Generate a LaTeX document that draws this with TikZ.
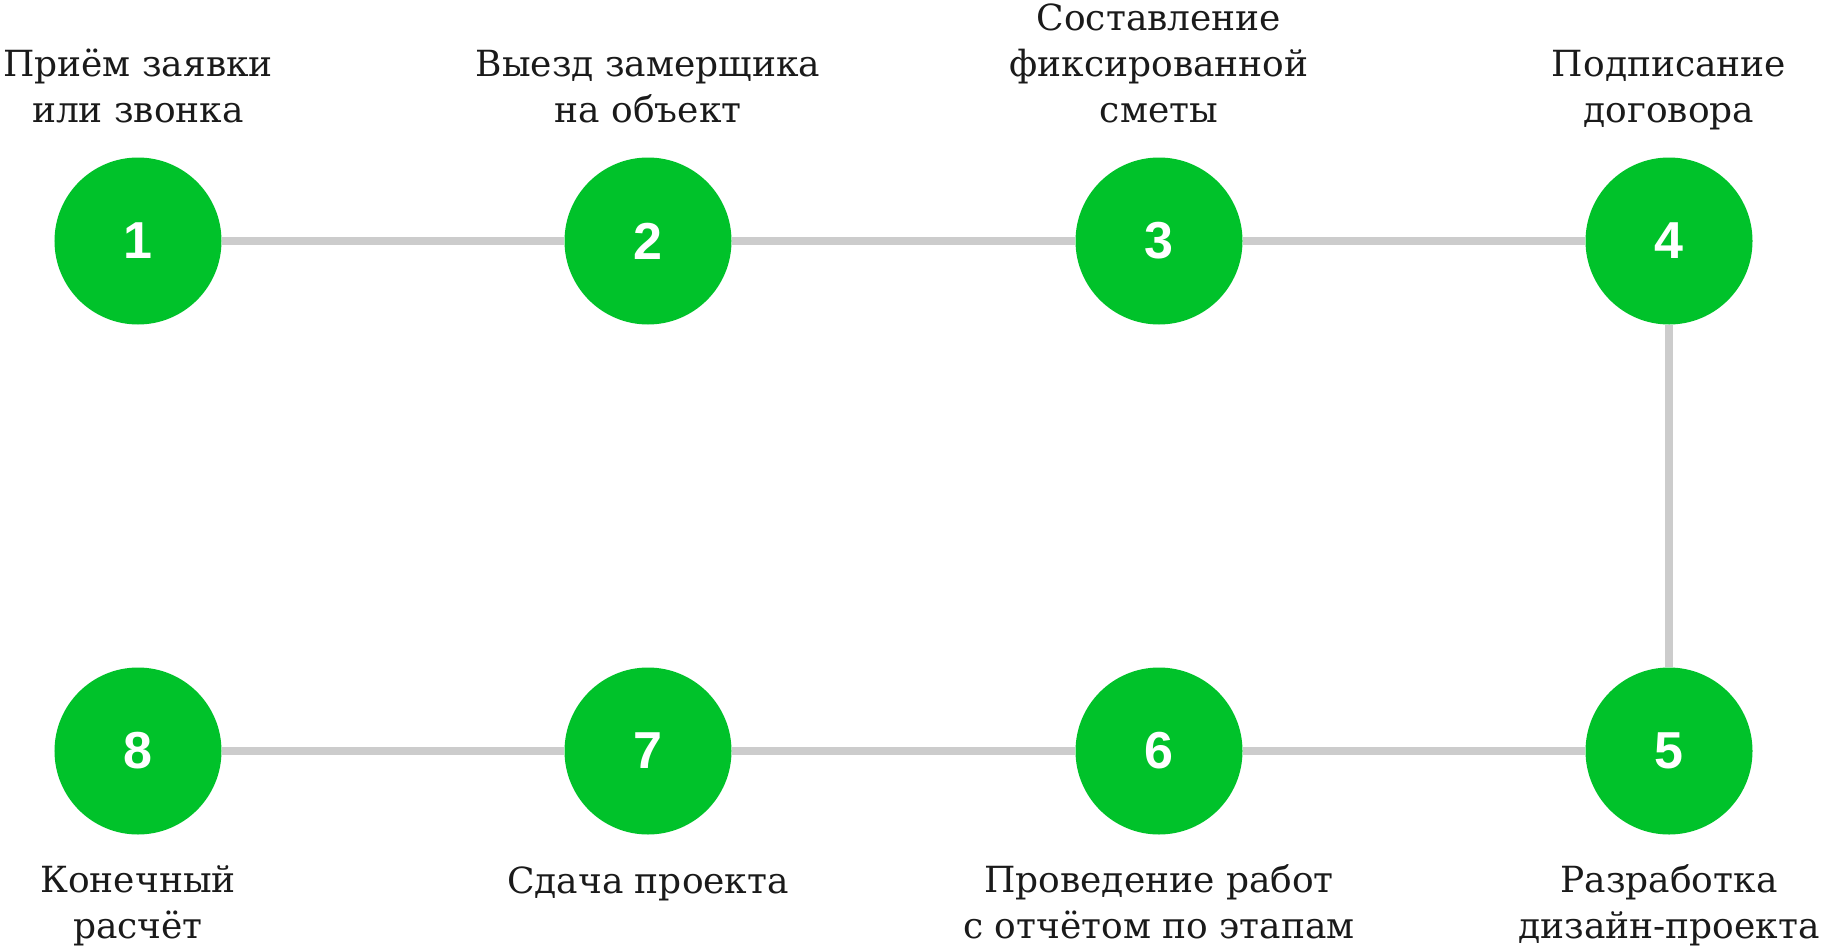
\documentclass[tikz,border=0pt]{standalone}
\usepackage{fontspec}
\setmainfont{DejaVu Serif}
\newfontfamily\numfont{Liberation Sans}
\definecolor{stepgreen}{RGB}{0,194,42}
\definecolor{linegray}{RGB}{204,204,204}
\definecolor{txt}{RGB}{26,26,26}
\begin{document}
\begin{tikzpicture}[x=1bp,y=-1bp,
  stepcircle/.style={circle,fill=stepgreen,minimum size=167bp,inner sep=0pt,
    text=white,font=\numfont\bfseries\fontsize{52bp}{52bp}\selectfont},
  conn/.style={draw=linegray,line width=8.5bp},
  lbl/.style={align=center,text=txt,inner sep=0pt,
    font=\fontsize{36bp}{46bp}\selectfont}]
\useasboundingbox (0,0) rectangle (1824,949);
\node[stepcircle] (n1) at (138,241) {1};
\node[stepcircle] (n2) at (648,241) {2};
\node[stepcircle] (n3) at (1159,241) {3};
\node[stepcircle] (n4) at (1669,241) {4};
\node[stepcircle] (n5) at (1669,751) {5};
\node[stepcircle] (n6) at (1159,751) {6};
\node[stepcircle] (n7) at (648,751) {7};
\node[stepcircle] (n8) at (138,751) {8};
\draw[conn] (n1) -- (n2);
\draw[conn] (n2) -- (n3);
\draw[conn] (n3) -- (n4);
\draw[conn] (n4) -- (n5);
\draw[conn] (n5) -- (n6);
\draw[conn] (n6) -- (n7);
\draw[conn] (n7) -- (n8);
\node[lbl,anchor=base] (t1) at (138,122) {Приём заявки\\или звонка};
\node[lbl,anchor=base] (t2) at (648,122) {Выезд замерщика\\на объект};
\node[lbl,anchor=base] (t3) at (1159,122) {Составление\\фиксированной\\сметы};
\node[lbl,anchor=base] (t4) at (1669,122) {Подписание\\договора};
\node[lbl,anchor=base] (t5) at (1669,938) {Разработка\\дизайн-проекта};
\node[lbl,anchor=base] (t6) at (1159,938) {Проведение работ\\с отчётом по этапам};
\node[lbl,anchor=base] (t7) at (648,893) {Сдача проекта};
\node[lbl,anchor=base] (t8) at (138,938) {Конечный\\расчёт};
\end{tikzpicture}
\end{document}
